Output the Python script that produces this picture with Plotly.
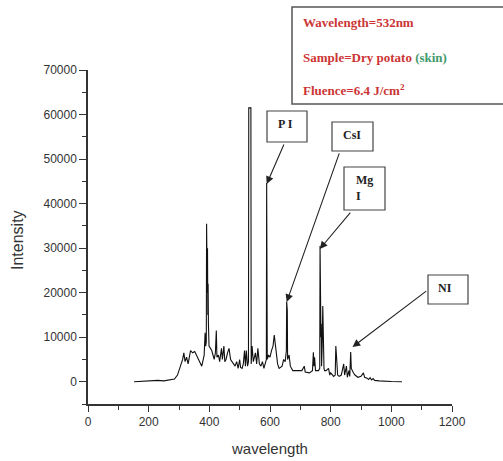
import plotly.graph_objects as go

# ---- data ----
wavelength = [152, 180, 200, 210, 230, 250, 270, 285, 295, 305, 312, 316, 320, 325, 330, 338, 345, 352,
              360, 370, 375, 380, 383, 386, 388, 390, 391, 393, 394, 395, 396, 397, 399, 403, 408, 412,
              416, 420, 423, 425, 430, 434, 440, 443, 448, 451, 455, 460, 465, 470, 475, 480, 485, 490,
              495, 500, 503, 508, 512, 516, 519, 522, 526, 529, 530, 537, 538, 541, 545, 552, 556, 560,
              565, 570, 575, 580, 586, 588, 589, 590, 591, 595, 600, 605, 610, 614, 617, 620, 625, 630,
              640, 645, 650, 654, 655, 656, 657, 658, 663, 667, 675, 690, 705, 713, 716, 730, 740, 743,
              745, 747, 750, 760, 764, 765, 766, 767, 768, 769, 770, 772, 774, 775, 776, 777, 778, 780,
              785, 793, 797, 800, 810, 815, 817, 819, 823, 828, 835, 843, 846, 852, 855, 860, 863, 866,
              868, 875, 880, 890, 900, 908, 912, 920, 925, 930, 935, 940, 945, 960, 980, 1000, 1035]
intensity = [0, 100, 300, 200, 300, 200, 400, 600, 1500, 3500, 5000, 6500, 4500, 5500, 4000, 7000, 6500, 6800,
             5500, 4000, 3500, 5000, 6000, 11000, 8000, 9000, 35500, 20000, 30000, 15000, 22000, 13000, 8000, 7500, 7000, 6000,
             5000, 6500, 11500, 5500, 6000, 4500, 7500, 5000, 8000, 4500, 5000, 6500, 7500, 5000, 4500, 4000, 3500, 4500,
             3000, 5000, 3200, 3000, 4000, 7000, 3500, 7000, 3500, 4500, 61500, 61500, 4000, 8000, 4500, 6500, 4000, 7500,
             4000, 3500, 4500, 3000, 4500, 5000, 44600, 14000, 5000, 6000, 5500, 7000, 8000, 10500, 9000, 7000, 4000, 3000,
             3500, 5000, 4500, 7000, 18000, 15700, 16000, 5000, 6000, 3500, 2500, 2500, 2500, 3500, 2200, 2000, 2500, 6600,
             3500, 5500, 2500, 2500, 3000, 30500, 14000, 22500, 10000, 13000, 3500, 8000, 17000, 12000, 16000, 6000, 3000, 2500,
             2500, 3000, 1500, 2000, 1200, 1500, 8000, 6000, 1500, 1200, 1500, 4000, 1500, 3500, 1000, 2500, 1200, 6700,
             3000, 2000, 1500, 1000, 1200, 2000, 1000, 800, 500, 900, 400, 700, 300, 200, 100, 50, 0]

x_ticks = [0, 200, 400, 600, 800, 1000, 1200]
y_ticks = [0, 10000, 20000, 30000, 40000, 50000, 60000, 70000]

info_lines = ["Wavelength=532nm", "Sample=Dry potato", "(skin)", "Fluence=6.4 J/cm<sup>2</sup>"]
labels = ["P I", "CsI", "Mg<br>I", "NI"]
# arrow tail (x, y) and head (x, y) in data units
arrow_tail = [(648, 53600), (830, 51600), (869, 38300), (1120, 20600)]
arrow_head = [(589, 44400), (655, 17900), (764, 29800), (872, 7800)]

W, H = 503, 461
ML, MR, MT, MB = 88, 51, 70, 57
PW, PH = W - ML - MR, H - MT - MB


def px(x):
    return (x - ML) / PW


def py(y):
    return 1 - (y - MT) / PH


fig = go.Figure()
fig.add_trace(go.Scatter(x=wavelength, y=intensity, mode="lines",
                         line=dict(color="#111111", width=1.1), showlegend=False,
                         hoverinfo="skip"))

RED = "#cc3535"
GREEN = "#3f9a6c"
serif = "Liberation Serif, Times New Roman, serif"
sans = "Liberation Sans, Arial, sans-serif"

shapes = []
annotations = []

# information box
shapes.append(dict(type="rect", xref="paper", yref="paper",
                   x0=px(292), x1=px(510), y0=py(104), y1=py(7),
                   line=dict(color="#555555", width=1.5), fillcolor="white"))
annotations.append(dict(xref="paper", yref="paper", x=px(301), y=py(23), xanchor="left", yanchor="middle",
                        text="<b>" + info_lines[0] + "</b>", showarrow=False,
                        font=dict(family=serif, size=13, color=RED)))
annotations.append(dict(xref="paper", yref="paper", x=px(301), y=py(58), xanchor="left", yanchor="middle",
                        text="<b>" + info_lines[1] + "</b> <b><span style='color:" + GREEN + "'>" + info_lines[2] + "</span></b>",
                        showarrow=False, font=dict(family=serif, size=13, color=RED)))
annotations.append(dict(xref="paper", yref="paper", x=px(301), y=py(90), xanchor="left", yanchor="middle",
                        text="<b>" + info_lines[3] + "</b>", showarrow=False,
                        font=dict(family=serif, size=13, color=RED)))

# label boxes (pixel positions)
boxes = [(267, 307, 111, 142), (332, 373, 122, 151), (344, 385, 167, 210), (428, 468, 275, 304)]
text_pos = [(285, 124), (352, 135), (354, 188), (445, 288)]
for (x0, x1, y0, y1), (tx, ty), lab in zip(boxes, text_pos, labels):
    shapes.append(dict(type="rect", xref="paper", yref="paper",
                       x0=px(x0), x1=px(x1), y0=py(y1), y1=py(y0),
                       line=dict(color="#444444", width=1.2), fillcolor="white"))
    annotations.append(dict(xref="paper", yref="paper", x=px(tx), y=py(ty),
                            xanchor="center" if "<br>" not in lab else "left",
                            yanchor="middle", align="left",
                            text="<b>" + lab + "</b>", showarrow=False,
                            font=dict(family=serif, size=12, color="#222222")))

for (ax_, ay_), (hx, hy) in zip(arrow_tail, arrow_head):
    annotations.append(dict(x=hx, y=hy, ax=ax_, ay=ay_, xref="x", yref="y", axref="x", ayref="y",
                            text="", showarrow=True, arrowhead=2, arrowsize=1.4, arrowwidth=1.1,
                            arrowcolor="#222222"))

# axis titles
annotations.append(dict(xref="paper", yref="paper", x=px(17), y=py(240), text="Intensity",
                        textangle=-90, showarrow=False, xanchor="center", yanchor="middle",
                        font=dict(family=sans, size=16, color="#333333")))
annotations.append(dict(xref="paper", yref="paper", x=px(269), y=py(448), text="wavelength",
                        showarrow=False, xanchor="center", yanchor="middle",
                        font=dict(family=sans, size=15, color="#333333")))

tick_font = dict(family=sans, size=12, color="#333333")

fig.update_layout(
    width=W, height=H,
    margin=dict(l=ML, r=MR, t=MT, b=MB),
    paper_bgcolor="white", plot_bgcolor="white",
    shapes=shapes, annotations=annotations,
    xaxis=dict(range=[0, 1200], tickvals=x_ticks, ticktext=[str(v) for v in x_ticks],
               showline=True, linecolor="#333333", linewidth=1.5, ticks="outside",
               ticklen=6, tickwidth=1.3, tickcolor="#333333", showgrid=False, zeroline=False,
               tickfont=tick_font, automargin=False,
               minor=dict(dtick=100, ticks="outside", ticklen=4, tickwidth=1.2, tickcolor="#333333")),
    yaxis=dict(range=[-5000, 70000], tickvals=y_ticks, ticktext=[str(v) for v in y_ticks],
               showline=True, linecolor="#333333", linewidth=1.5, ticks="outside",
               ticklen=7, tickwidth=1.3, tickcolor="#333333", showgrid=False, zeroline=False,
               tickfont=tick_font, automargin=False,
               minor=dict(dtick=5000, ticks="outside", ticklen=4, tickwidth=1.2, tickcolor="#333333")),
)

fig.write_html("out.html")
